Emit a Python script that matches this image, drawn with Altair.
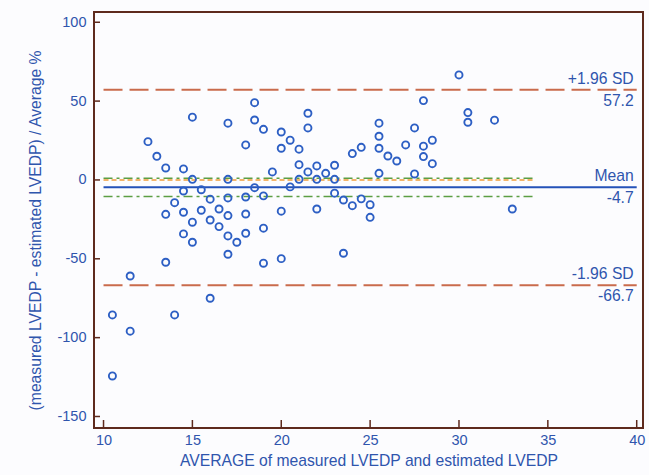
import altair as alt
import pandas as pd

# ---- data ----
avg = [15.0, 17.0, 12.5, 13.0, 13.5, 14.5, 15.0, 17.0, 14.5, 15.5,
       17.0, 16.0, 14.0, 13.5, 14.5, 15.5, 16.5, 17.0, 15.0, 16.0,
       16.5, 14.5, 15.0, 17.0, 17.5, 17.0, 13.5, 11.5, 16.0, 10.5,
       14.0, 11.5, 10.5, 18.5, 21.5, 18.5, 21.5, 19.0, 20.0, 20.5,
       18.0, 20.0, 21.0, 24.0, 24.5, 25.5, 25.5, 25.5, 25.5, 19.5,
       21.0, 21.5, 22.0, 22.5, 23.0, 21.0, 22.0, 23.0, 20.5, 18.5,
       18.0, 19.0, 23.0, 23.5, 24.0, 24.5, 25.0, 25.0, 22.0, 20.0,
       18.0, 19.0, 18.0, 19.0, 20.0, 23.5, 30.0, 28.0, 30.5, 30.5,
       32.0, 27.5, 28.5, 27.0, 28.0, 26.0, 26.5, 28.0, 28.5, 27.5,
       33.0]
diff = [39.8, 36.0, 24.3, 15.0, 7.6, 7.0, 0.4, 0.4, -7.0, -6.2,
        -11.4, -12.2, -14.4, -21.8, -20.5, -19.2, -18.4, -22.6, -26.8, -25.4,
        -29.6, -34.2, -39.5, -35.5, -39.5, -47.1, -52.2, -60.9, -75.0, -85.6,
        -85.6, -95.9, -124.3, 49.0, 42.3, 38.0, 33.0, 32.1, 30.4, 25.2,
        22.2, 20.1, 19.5, 16.7, 20.7, 36.0, 27.7, 20.1, 4.2, 5.1,
        9.7, 5.1, 8.9, 4.2, 9.3, 0.4, 0.4, 0.4, -4.4, -4.9,
        -10.8, -10.1, -8.4, -12.7, -16.3, -12.0, -15.7, -23.7, -18.4, -19.8,
        -21.6, -30.6, -33.8, -52.8, -49.9, -46.5, 66.6, 50.3, 42.7, 36.6,
        37.9, 33.0, 25.2, 22.2, 21.4, 15.2, 12.0, 14.8, 10.3, 3.8,
        -18.4]

x_ticks = [10, 15, 20, 25, 30, 35, 40]
y_ticks = [100, 50, 0, -50, -100, -150]

sd_values = [57.2, -66.7]
sd_top = ["+1.96 SD", "-1.96 SD"]
sd_bottom = ["57.2", "-66.7"]
mean_value = [-4.7]
mean_top = ["Mean"]
mean_bottom = ["-4.7"]
ci_values = [1.1, -10.5]
zero_value = [0]
line_start = 10
line_end = 40
ci_end = 34.2

x_title = "AVERAGE of measured LVEDP and estimated LVEDP"
y_title = "(measured LVEDP - estimated LVEDP) / Average %"

# ---- styles ----
FONT = "Liberation Sans"
BLUE_TXT = "#2f55ad"
FRAME = "#5e2a1d"
PT = "#2d5fc4"

xs = alt.Scale(domain=[9.464, 40.354], nice=False, zero=False)
ys = alt.Scale(domain=[-157.3, 106.5], nice=False, zero=False)

AX_X = alt.Axis(
    values=x_ticks, ticks=False, domain=False, grid=False,
    labelExpr="datum.value + ''",
    labelFont=FONT, labelFontSize=14.5, labelColor=BLUE_TXT, labelPadding=5,
    title=x_title, titleFont=FONT, titleFontSize=15.7, titleFontWeight="normal",
    titleColor=BLUE_TXT, titleBaseline="middle", titleY=32)
AX_Y = alt.Axis(
    values=y_ticks, ticks=False, domain=False, grid=False,
    labelExpr="datum.value + ''",
    labelFont=FONT, labelFontSize=14.5, labelColor=BLUE_TXT, labelPadding=8,
    title=y_title, titleFont=FONT, titleFontSize=15.7, titleFontWeight="normal",
    titleColor=BLUE_TXT, titleAngle=-90, titleBaseline="middle",
    titleAlign="center", titleX=-59, titleY=218)

def X(field):
    return alt.X(field, scale=xs, axis=AX_X)

def Y(field):
    return alt.Y(field, scale=ys, axis=AX_Y)

pts = pd.DataFrame({"avg": avg, "diff": diff})

points = alt.Chart(pts).mark_point(
    shape="circle", filled=False, size=50, strokeWidth=1.9, color=PT, opacity=1
).encode(x=X("avg:Q"), y=Y("diff:Q"))

sd_df = pd.DataFrame({"y": sd_values, "x": [line_start] * 2, "x2": [line_end] * 2,
                      "top": sd_top, "bottom": sd_bottom})
mean_df = pd.DataFrame({"y": mean_value, "x": [line_start], "x2": [line_end],
                        "top": mean_top, "bottom": mean_bottom})
ci_df = pd.DataFrame({"y": ci_values, "x": [line_start] * 2, "x2": [ci_end] * 2})
zero_df = pd.DataFrame({"y": zero_value, "x": [line_start], "x2": [ci_end]})

def hrule(df, **kw):
    return alt.Chart(df).mark_rule(**kw).encode(
        x=X("x:Q"), x2="x2:Q", y=Y("y:Q"))

sd_lines = hrule(sd_df, color="#c96b4c", strokeWidth=2, strokeDash=[19, 7])
mean_line = hrule(mean_df, color="#2452b8", strokeWidth=2)
zero_line = hrule(zero_df, color="#f2b46a", strokeWidth=2, strokeDash=[5, 3])
ci_lines = hrule(ci_df, color="#5c9e44", strokeWidth=1.6, strokeDash=[9, 4, 3, 4])

def labels(df, field, baseline, dy):
    return alt.Chart(df).mark_text(
        align="right", baseline=baseline, dx=-3, dy=dy, font=FONT, fontSize=15.7,
        color=BLUE_TXT
    ).encode(x=X("x2:Q"), y=Y("y:Q"), text=f"{field}:N")

sd_t1 = labels(sd_df, "top", "bottom", -3)
sd_t2 = labels(sd_df, "bottom", "top", 4)
m_t1 = labels(mean_df, "top", "bottom", -3)
m_t2 = labels(mean_df, "bottom", "top", 4)

xt = alt.Chart(pd.DataFrame({"t": x_ticks})).mark_rule(color=FRAME, strokeWidth=1.5).encode(
    x=X("t:Q"), y=alt.value(416), y2=alt.value(408))
yt = alt.Chart(pd.DataFrame({"t": y_ticks})).mark_rule(color=FRAME, strokeWidth=1.5).encode(
    y=Y("t:Q"), x=alt.value(0), x2=alt.value(6))

chart = alt.layer(
    zero_line, ci_lines, sd_lines, mean_line, xt, yt, points,
    sd_t1, sd_t2, m_t1, m_t2
).properties(
    width=549, height=416,
    padding={"left": 94, "top": 12, "right": 6, "bottom": 47},
    autosize="none",
    background="#fcfcfe",
).configure_view(
    stroke=FRAME, strokeWidth=2
)

chart.save("out.html", embed_options={"renderer": "svg", "actions": False})
